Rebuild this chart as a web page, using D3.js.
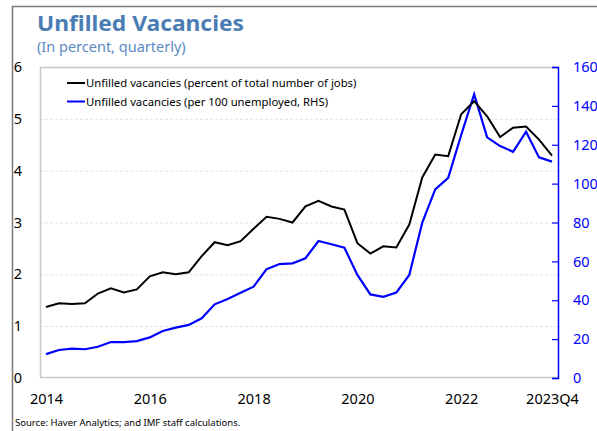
<!DOCTYPE html>
<html><head><meta charset="utf-8">
<script src="https://cdn.jsdelivr.net/npm/d3@7"></script>
<style>body{margin:0;background:#fff}svg{display:block}</style>
</head><body><svg id="c" width="597" height="431"></svg>
<script>
const quarters = [];
for (let y = 2014; y <= 2023; y++) for (let q = 1; q <= 4; q++) quarters.push(y + "Q" + q);
const pctJobs = [1.37,1.44,1.43,1.44,1.63,1.73,1.65,1.71,1.96,2.04,2.00,2.04,2.35,2.62,2.56,2.64,2.88,3.11,3.07,3.00,3.31,3.42,3.31,3.25,2.60,2.40,2.54,2.52,2.96,3.87,4.31,4.28,5.09,5.34,5.05,4.65,4.83,4.85,4.60,4.29];
const per100 = [12.3,14.4,15.1,14.8,16.1,18.5,18.5,19.0,20.9,24.2,25.9,27.3,30.7,37.9,40.6,43.9,47.0,56.0,58.6,59.0,61.6,70.5,68.8,67.0,53.0,43.0,41.8,43.9,53.0,79.9,97.0,103.0,125.0,146.0,123.8,119.3,116.4,126.7,113.5,111.3];
const xTickLabels = ["2014","2016","2018","2020","2022","2023Q4"];
const xTickQuarters = ["2014Q1","2016Q1","2018Q1","2020Q1","2022Q1","2023Q4"];
const leftTicks = [0,1,2,3,4,5,6];
const rightTicks = [0,20,40,60,80,100,120,140,160];
const legendLabels = ["Unfilled vacancies (percent of total number of jobs)","Unfilled vacancies (per 100 unemployed, RHS)"];

const svg = d3.select("#c");
const font = "'Noto Sans', 'Open Sans', sans-serif";
const L = 40, R = 558, T = 67, B = 378;
const x = d3.scalePoint().domain(quarters).range([46, 552]);
const yL = d3.scaleLinear().domain([0,6]).range([B,T]);
const yR = d3.scaleLinear().domain([0,160]).range([B,T]);

// outer frame
svg.append("path").attr("d", `M12.5,431 V6.5 H597`).attr("fill","none").attr("stroke","#7a7a7a").attr("stroke-width",1.5);

// title
svg.append("text").attr("x",37).attr("y",31).text("Unfilled Vacancies")
  .attr("font-family",font).attr("font-weight","bold").attr("font-size",20.5).attr("fill","#4a7db3")
  .attr("textLength",207).attr("lengthAdjust","spacingAndGlyphs");
svg.append("text").attr("x",37).attr("y",52).text("(In percent, quarterly)")
  .attr("font-family",font).attr("font-size",14.5).attr("fill","#5b8ac4");

// gridlines
svg.append("g").selectAll("line").data(leftTicks.filter(d=>d>0&&d<6)).join("line")
  .attr("x1",L).attr("x2",R).attr("y1",d=>yL(d)+0.5).attr("y2",d=>yL(d)+0.5)
  .attr("stroke","#e2e2e2").attr("stroke-dasharray","3,2").attr("stroke-width",1);

// plot border
svg.append("path").attr("d",`M${R},${T+0.5} H${L+0.5} V${B-0.5} H${R}`).attr("fill","none").attr("stroke","#c8c8c8").attr("stroke-width",1.5);

// right axis
const rAxis = d3.axisRight(yR).tickValues(rightTicks).tickSize(-6).tickPadding(15);
const gR = svg.append("g").attr("transform",`translate(${R},0)`).call(rAxis);
gR.select(".domain").attr("stroke","#0000ff").attr("stroke-width",1.5);
gR.selectAll(".tick line").attr("stroke","#0000ff").attr("stroke-width",1.2);
gR.selectAll("text").attr("fill","#0000ff").attr("font-family",font).attr("font-size",14.5);

// left axis labels
const lAxis = d3.axisLeft(yL).tickValues(leftTicks).tickFormat(d3.format("d")).tickSize(0).tickPadding(17);
const gL = svg.append("g").attr("transform",`translate(${L},0)`).call(lAxis);
gL.select(".domain").remove();
gL.selectAll("text").attr("fill","#000").attr("font-family",font).attr("font-size",14.5).attr("text-anchor","middle");
gL.selectAll(".tick text").attr("x",-22);

// x axis labels
const xAxis = d3.axisBottom(x).tickValues(xTickQuarters).tickFormat((d,i)=>xTickLabels[i]).tickSize(0).tickPadding(16);
const gX = svg.append("g").attr("transform",`translate(0,${B})`).call(xAxis);
gX.select(".domain").remove();
gX.selectAll("text").attr("fill","#000").attr("font-family",font).attr("font-size",14.5);

// lines
const lineL = d3.line().x((d,i)=>x(quarters[i])).y(d=>yL(d));
const lineR = d3.line().x((d,i)=>x(quarters[i])).y(d=>yR(d));
svg.append("path").datum(per100).attr("d",lineR).attr("fill","none").attr("stroke","#0000ff").attr("stroke-width",2.2).attr("stroke-linejoin","miter");
svg.append("path").datum(pctJobs).attr("d",lineL).attr("fill","none").attr("stroke","#000").attr("stroke-width",2).attr("stroke-linejoin","miter");

// legend
const legColors = ["#000","#0000ff"];
const lg = svg.append("g").selectAll("g").data(legendLabels).join("g")
  .attr("transform",(d,i)=>`translate(67,${83+i*18.5})`);
lg.append("line").attr("x1",0).attr("x2",18).attr("y1",0).attr("y2",0).attr("stroke",(d,i)=>legColors[i]).attr("stroke-width",2);
lg.append("text").attr("x",19).attr("y",4).text(d=>d).attr("font-family",font).attr("font-size",11.3).attr("fill","#000");

// source
svg.append("text").attr("x",15).attr("y",426).text("Source: Haver Analytics; and IMF staff calculations.")
  .attr("font-family",font).attr("font-size",9.5).attr("fill","#000");
</script></body></html>
